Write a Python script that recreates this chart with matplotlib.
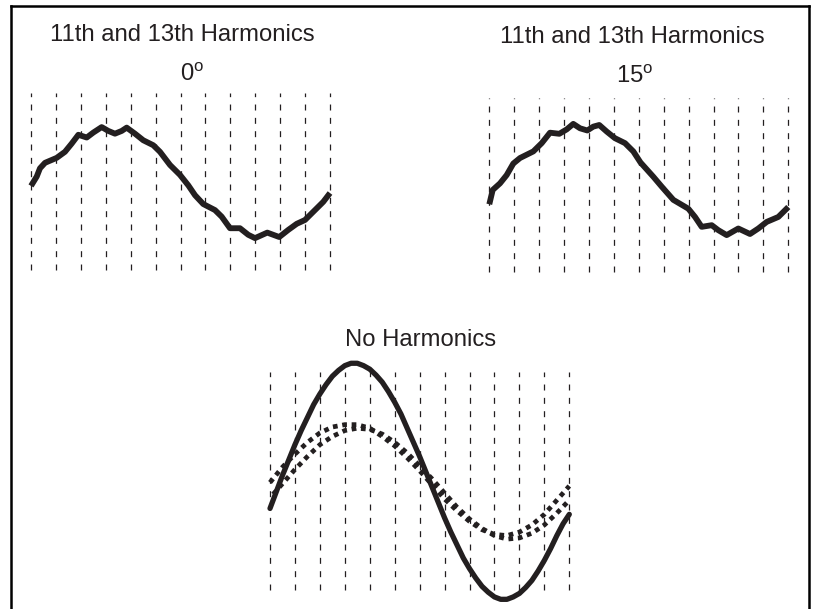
import matplotlib
matplotlib.use("Agg")
import matplotlib.pyplot as plt
from matplotlib.lines import Line2D

plt.rcParams['font.family'] = ['Liberation Sans', 'DejaVu Sans']
plt.rcParams['mathtext.fontset'] = 'custom'
plt.rcParams['mathtext.rm'] = 'Liberation Sans'
plt.rcParams['lines.scale_dashes'] = False

INK = '#231f20'

# ---------------- data (degrees, relative amplitude) ----------------
grid_deg = [0, 30, 60, 90, 120, 150, 180, 210, 240, 270, 300, 330, 360]

h0_deg = [0, 6.9, 10.8, 16.9, 30.9, 40.9, 49.0, 57.0, 67.1, 75.0, 85.1, 93.1,
          101.1, 109.2, 115.2, 125.2, 135.2, 147.2, 155.3, 167.4, 179.4, 189.4,
          197.5, 207.4, 221.5, 229.6, 239.6, 251.6, 261.6, 269.7, 284.5, 298.9,
          309.8, 319.9, 329.9, 339.9, 351.9, 360]
h0_amp = [-0.07, 0.10, 0.25, 0.35, 0.44, 0.55, 0.70, 0.86, 0.81, 0.90, 1.00, 0.93,
          0.88, 0.93, 0.99, 0.88, 0.76, 0.67, 0.55, 0.31, 0.13, -0.06,
          -0.24, -0.40, -0.51, -0.63, -0.84, -0.84, -0.96, -1.02, -0.92, -1.00,
          -0.87, -0.76, -0.69, -0.54, -0.36, -0.20]

h15_deg = [0, 4.1, 12.9, 20.9, 28.9, 37.0, 53.0, 63.1, 73.1, 84.3, 93.2, 101.1,
           109.2, 118.0, 125.2, 132.4, 141.4, 151.3, 163.4, 173.4, 182.0, 197.5,
           207.6, 221.6, 239.6, 247.7, 255.7, 267.8, 275.7, 285.8, 299.8, 313.9,
           323.9, 334.0, 348.0, 360]
h15_amp = [-0.44, -0.18, -0.06, 0.09, 0.30, 0.40, 0.52, 0.67, 0.86, 0.84, 0.92, 1.02,
           0.94, 0.90, 0.97, 1.00, 0.88, 0.76, 0.67, 0.52, 0.32, 0.06,
           -0.12, -0.36, -0.52, -0.67, -0.85, -0.82, -0.91, -1.00, -0.88, -0.98,
           -0.88, -0.76, -0.67, -0.49]

base_deg = [0, 7.5, 15, 22.5, 30, 37.5, 45, 52.5, 60, 67.5, 75, 82.5, 90, 97.5,
            105, 112.5, 120, 127.5, 135, 142.5, 150, 157.5, 165, 172.5, 180,
            187.5, 195, 202.5, 210, 217.5, 225, 232.5, 240, 247.5, 255, 262.5,
            270, 277.5, 285, 292.5, 300, 307.5, 315, 322.5, 330, 337.5, 345,
            352.5, 360]
base_amp = [-0.23, -0.09, 0.05, 0.18, 0.31, 0.43, 0.54, 0.65, 0.74, 0.82, 0.89,
            0.94, 0.98, 1.00, 1.00, 0.98, 0.95, 0.90, 0.84, 0.76, 0.67, 0.57,
            0.45, 0.33, 0.21, 0.08, -0.05, -0.18, -0.31, -0.43, -0.54, -0.65,
            -0.74, -0.82, -0.89, -0.94, -0.98, -1.00, -1.00, -0.98, -0.95,
            -0.90, -0.84, -0.76, -0.67, -0.57, -0.46, -0.36, -0.28]

dot_deg = [0, 15, 30, 45, 60, 75, 90, 105, 120, 135, 150, 165, 180, 195, 210,
           225, 240, 255, 270, 285, 300, 315, 330, 345, 360]
dotA_amp = [-0.01, 0.12, 0.23, 0.33, 0.41, 0.46, 0.48, 0.48, 0.45, 0.38, 0.30,
            0.20, 0.09, -0.03, -0.15, -0.25, -0.34, -0.41, -0.45, -0.46, -0.43,
            -0.37, -0.28, -0.16, -0.04]
dotB_amp = [-0.14, -0.02, 0.10, 0.21, 0.31, 0.38, 0.43, 0.45, 0.44, 0.40, 0.33,
            0.24, 0.13, 0.02, -0.10, -0.22, -0.32, -0.40, -0.46, -0.49, -0.48,
            -0.44, -0.37, -0.27, -0.16]

titles = ["11th and 13th Harmonics", "11th and 13th Harmonics", "No Harmonics"]
phase_labels = [r"0$^{\mathrm{o}}$", r"15$^{\mathrm{o}}$"]

# ---------------- figure ----------------
W, H = 814, 609
fig = plt.figure(figsize=(W / 100, H / 100), dpi=100)
fig.patch.set_facecolor('white')


def px_axes(x0, x1, y0, y1):
    return fig.add_axes([x0 / W, 1 - y1 / H, (x1 - x0) / W, (y1 - y0) / H])


def fx(x):
    return x / W


def fy(y):
    return 1 - y / H


def grid(ax):
    for g in grid_deg:
        ax.axvline(g, color=INK, lw=0.9, dashes=(4.3, 5.3), clip_on=False)


# top-left panel
ax1 = px_axes(31, 330, 93, 270)
ax1.set_xlim(0, 360)
ax1.set_ylim(-1.60, 1.62)
grid(ax1)
ax1.plot(h0_deg, h0_amp, color=INK, lw=4.2, solid_joinstyle='round',
         solid_capstyle='butt', clip_on=False)
ax1.axis('off')

# top-right panel
ax2 = px_axes(489.3, 788.3, 98, 272)
ax2.set_xlim(0, 360)
ax2.set_ylim(-1.67, 1.49)
grid(ax2)
ax2.plot(h15_deg, h15_amp, color=INK, lw=4.2, solid_joinstyle='round',
         solid_capstyle='butt', clip_on=False)
ax2.axis('off')

# bottom panel
ax3 = px_axes(270, 569.3, 372, 590)
ax3.set_xlim(0, 360)
ax3.set_ylim(-0.921, 0.926)
grid(ax3)
ax3.plot(base_deg, base_amp, color=INK, lw=3.8, solid_joinstyle='round',
         solid_capstyle='round', clip_on=False)
ax3.plot(dot_deg, dotA_amp, color=INK, lw=3.4, linestyle=(0, (3.4, 3.4)),
         dash_capstyle='butt', clip_on=False)
ax3.plot(dot_deg, dotB_amp, color=INK, lw=3.4, linestyle=(3.4, (3.4, 3.4)),
         dash_capstyle='butt', clip_on=False)
ax3.axis('off')

# texts
fs = 17.2
fig.text(fx(182), fy(35), titles[0], ha='center', va='center', fontsize=fs, color=INK)
fig.text(fx(192), fy(75), phase_labels[0], ha='center', va='center', fontsize=fs, color=INK)
fig.text(fx(632), fy(37), titles[1], ha='center', va='center', fontsize=fs, color=INK)
fig.text(fx(635), fy(77), phase_labels[1], ha='center', va='center', fontsize=fs, color=INK)
fig.text(fx(421), fy(340), titles[2], ha='center', va='center', fontsize=fs, color=INK)

# frame (left, top, right; open at the bottom)
for xs, ys in [([11, 11], [6, 609]), ([11, 809], [6, 6]), ([809, 809], [6, 609])]:
    fig.add_artist(Line2D([fx(v) for v in xs], [fy(v) for v in ys],
                          transform=fig.transFigure, color='black', lw=1.8,
                          solid_capstyle='projecting'))

fig.savefig('out.png', dpi=100, facecolor='white')
